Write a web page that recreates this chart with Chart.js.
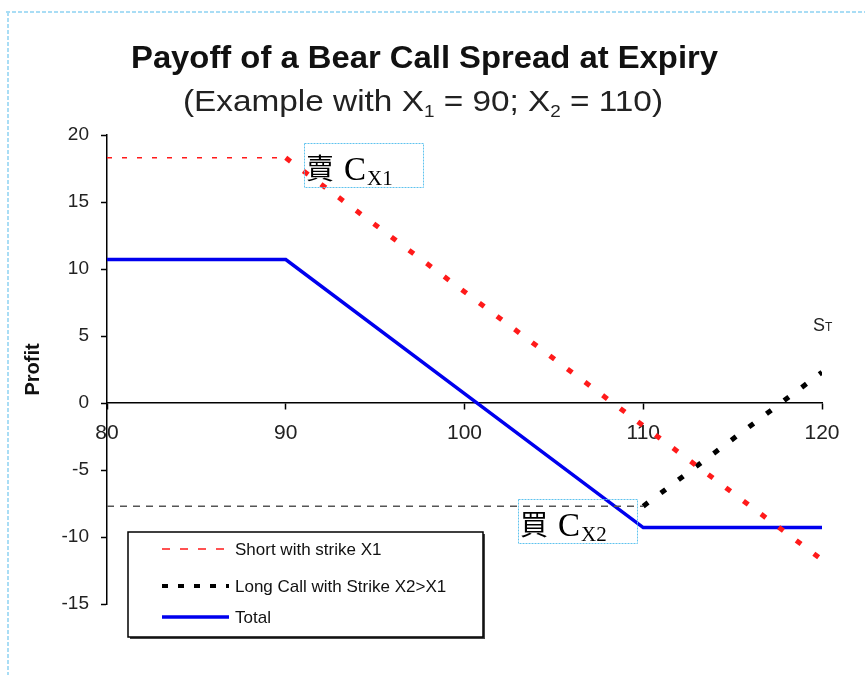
<!DOCTYPE html>
<html>
<head>
<meta charset="utf-8">
<script src="https://cdn.jsdelivr.net/npm/chart.js@4.4.1/dist/chart.umd.min.js"></script>
<style>
  html, body { margin: 0; padding: 0; background: #fff; }
  canvas { display: block; }
</style>
</head>
<body>
<canvas id="ct-chart" width="865" height="675"></canvas>
<script>
// stock price at expiry (S_T) and profit of each leg
var priceList = [80, 90, 100, 110, 120],
  shortCallList = [18.3, 18.3, 8.3, -1.7, -11.7],
  longCallList = [-7.7, -7.7, -7.7, -7.7, 2.3],
  totalList = [10.7, 10.7, 0.7, -9.3, -9.3],
  xTickList = [80, 90, 100, 110, 120],
  yTickList = [-15, -10, -5, 0, 5, 10, 15, 20];

var seriesNames = ["Short with strike X1", "Long Call with Strike X2>X1", "Total"];
var strikeX1 = 90,
  strikeX2 = 110;

var sansFont = '"Liberation Sans", Arial, sans-serif',
  serifFont = '"Liberation Serif", "Noto Sans CJK TC", serif';

toPoints = (values) => priceList.map((p, i) => ({ x: p, y: values[i] }));

// draw a run of text pieces (with subscripts), stretched to a given width
drawRuns = (ctx, runs, left, baseline, width) => {
  let total = 0;
  runs.forEach((r) => {
    ctx.font = r.font;
    r.w = ctx.measureText(r.t).width;
    total += r.w;
  });
  let sx = width ? width / total : 1;
  ctx.save();
  ctx.translate(left, baseline);
  ctx.scale(sx, 1);
  let x = 0;
  runs.forEach((r) => {
    ctx.font = r.font;
    ctx.fillText(r.t, x, r.dy || 0);
    x += r.w;
  });
  ctx.restore();
};

var framePlugin = {
  id: "frame",
  beforeDraw: (chart) => {
    const ctx = chart.ctx;
    ctx.save();
    ctx.fillStyle = "#fff";
    ctx.fillRect(0, 0, chart.width, chart.height);
    ctx.strokeStyle = "#a9ddf5";
    ctx.lineWidth = 2;
    ctx.setLineDash([4, 2]);
    ctx.beginPath();
    ctx.moveTo(6, 12);
    ctx.lineTo(chart.width, 12);
    ctx.moveTo(8, 12);
    ctx.lineTo(8, chart.height);
    ctx.stroke();
    ctx.restore();
  },
};

var textPlugin = {
  id: "texts",
  afterDraw: (chart) => {
    const ctx = chart.ctx;
    ctx.save();
    ctx.fillStyle = "#111";
    ctx.textBaseline = "alphabetic";

    // title + subtitle
    drawRuns(ctx, [{ t: "Payoff of a Bear Call Spread at Expiry", font: "bold 32px " + sansFont }], 131, 68, 587);
    ctx.fillStyle = "#222";
    drawRuns(
      ctx,
      [
        { t: "(Example with X", font: "30px " + sansFont },
        { t: "1", font: "17px " + sansFont, dy: 6 },
        { t: " = 90; X", font: "30px " + sansFont },
        { t: "2", font: "17px " + sansFont, dy: 6 },
        { t: " = 110)", font: "30px " + sansFont },
      ],
      183,
      111,
      480
    );

    // S_T label
    drawRuns(
      ctx,
      [
        { t: "S", font: "18px " + sansFont },
        { t: "T", font: "12px " + sansFont },
      ],
      813,
      331
    );

    // annotation boxes
    const xs = chart.scales.x,
      ys = chart.scales.y;
    const notes = [
      { x: 91, y: 19.4, cjk: "賣", sub: "X1" },
      { x: 103, y: -7.2, cjk: "買", sub: "X2" },
    ];
    notes.forEach((n) => {
      const left = Math.round(xs.getPixelForValue(n.x)),
        top = Math.round(ys.getPixelForValue(n.y));
      ctx.save();
      ctx.strokeStyle = "#5fc3ee";
      ctx.lineWidth = 1;
      ctx.setLineDash([2, 1]);
      ctx.strokeRect(left + 0.5, top + 0.5, 119, 44);
      ctx.restore();
      ctx.fillStyle = "#000";
      ctx.font = '28px "Noto Sans CJK TC", serif';
      ctx.fillText(n.cjk, left + 2, top + 36);
      ctx.font = "33px " + serifFont;
      ctx.fillText("C", left + 40, top + 37);
      ctx.font = "21px " + serifFont;
      ctx.fillText(n.sub, left + 63, top + 42);
    });

    // legend box
    const lx = 128,
      ly = 532,
      lw = 355,
      lh = 105;
    ctx.fillStyle = "#fff";
    ctx.fillRect(lx, ly, lw, lh);
    ctx.fillStyle = "#444";
    ctx.fillRect(lx + 2, ly + lh, lw, 2);
    ctx.fillRect(lx + lw, ly + 2, 2, lh);
    ctx.strokeStyle = "#000";
    ctx.lineWidth = 1.5;
    ctx.strokeRect(lx, ly, lw, lh);
    const rowY = [549, 586, 617];
    chart.data.datasets.forEach((ds, i) => {
      ctx.save();
      ctx.strokeStyle = ds.borderColor;
      ctx.lineWidth = ds.legendWidth;
      ctx.setLineDash(ds.legendDash);
      ctx.beginPath();
      ctx.moveTo(162, rowY[i]);
      ctx.lineTo(229, rowY[i]);
      ctx.stroke();
      ctx.restore();
      ctx.fillStyle = "#111";
      ctx.font = "17px " + sansFont;
      ctx.fillText(ds.label, 235, rowY[i] + 6);
    });
    ctx.restore();
  },
};

populateChart = () => {
  const myChart = document.getElementById("ct-chart");
  const tickFont = { family: sansFont, size: 19 };

  new Chart(myChart, {
    type: "line",
    data: {
      datasets: [
        {
          label: seriesNames[0],
          data: toPoints(shortCallList),
          borderColor: "#ff1a1a",
          legendDash: [8, 10],
          legendWidth: 1.5,
          segment: {
            borderDash: (c) => (c.p0.parsed.x < strikeX1 ? [5, 10] : [6, 16]),
            borderWidth: (c) => (c.p0.parsed.x < strikeX1 ? 1.5 : 5),
          },
        },
        {
          label: seriesNames[1],
          data: toPoints(longCallList),
          borderColor: "#000",
          legendDash: [6, 10],
          legendWidth: 4,
          segment: {
            borderDash: (c) => (c.p0.parsed.x < strikeX2 ? [7, 6] : [6, 16]),
            borderWidth: (c) => (c.p0.parsed.x < strikeX2 ? 1.5 : 5),
            borderColor: (c) => (c.p0.parsed.x < strikeX2 ? "#555" : "#000"),
          },
        },
        {
          label: seriesNames[2],
          data: toPoints(totalList),
          borderColor: "#0000ee",
          borderWidth: 3.5,
          legendDash: [],
          legendWidth: 3.5,
        },
      ],
    },
    options: {
      responsive: false,
      animation: false,
      devicePixelRatio: 1,
      layout: { padding: { top: 135, right: 43, bottom: 71, left: 0 } },
      elements: {
        point: { radius: 0, hoverRadius: 0 },
        line: { tension: 0, borderCapStyle: "butt" },
      },
      plugins: {
        legend: { display: false },
        tooltip: { enabled: false },
      },
      scales: {
        x: {
          type: "linear",
          min: 80,
          max: 120,
          position: { y: 0 },
          afterBuildTicks: (s) => {
            s.ticks = xTickList.map((v) => ({ value: v }));
          },
          grid: { drawOnChartArea: false, tickLength: 6, tickColor: "#000", tickWidth: 1.5 },
          border: { color: "#000", width: 1.5 },
          ticks: {
            font: { family: sansFont, size: 21 },
            color: "#222",
            padding: 12,
            maxRotation: 0,
            autoSkip: false,
          },
        },
        y: {
          min: -15,
          max: 20,
          afterBuildTicks: (s) => {
            s.ticks = yTickList.map((v) => ({ value: v }));
          },
          afterFit: (s) => {
            s.width = 107;
          },
          grid: { drawOnChartArea: false, tickLength: 6, tickColor: "#000", tickWidth: 1.5 },
          border: { color: "#000", width: 1.5 },
          ticks: { font: tickFont, color: "#222", padding: 12, autoSkip: false },
          title: {
            display: true,
            text: "Profit",
            color: "#111",
            font: { family: sansFont, size: 20, weight: "bold" },
            padding: { top: 21, bottom: 0 },
          },
        },
      },
    },
    plugins: [framePlugin, textPlugin],
  });
};

populateChart();
</script>
</body>
</html>
